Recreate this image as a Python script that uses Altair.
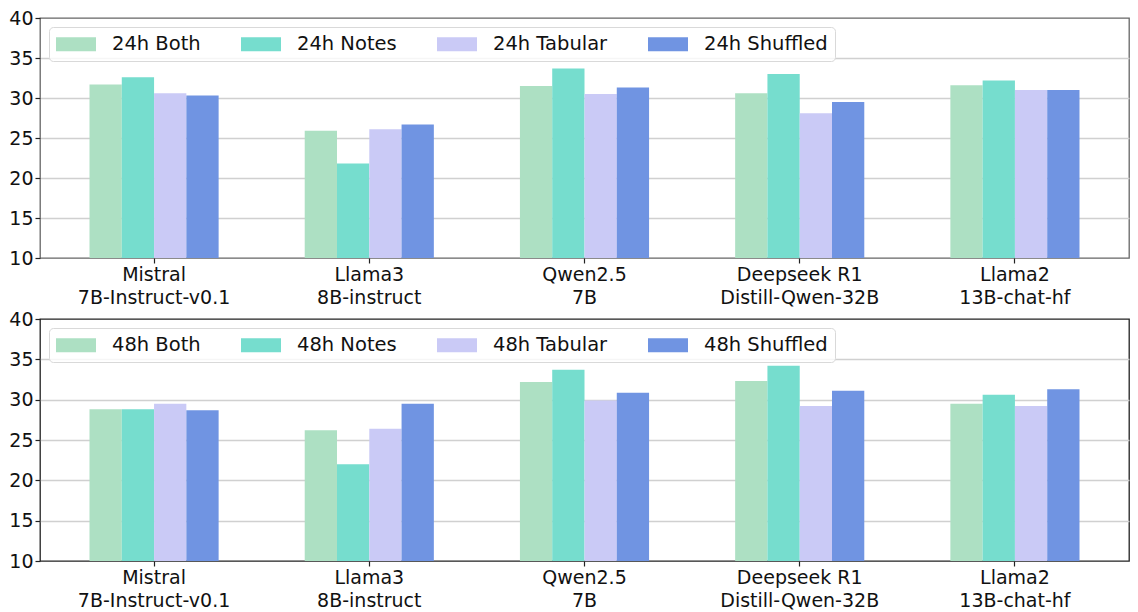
import altair as alt
import pandas as pd

models = ["Mistral\n7B-Instruct-v0.1", "Llama3\n8B-instruct", "Qwen2.5\n7B",
          "Deepseek R1\nDistill-Qwen-32B", "Llama2\n13B-chat-hf"]

conds24 = ["24h Both", "24h Notes", "24h Tabular", "24h Shuffled"]
both24 = [31.7, 25.9, 31.5, 30.6, 31.6]
notes24 = [32.6, 21.8, 33.7, 33.0, 32.2]
tab24 = [30.6, 26.1, 30.5, 28.1, 31.0]
shuf24 = [30.3, 26.7, 31.3, 29.5, 31.0]

conds48 = ["48h Both", "48h Notes", "48h Tabular", "48h Shuffled"]
both48 = [28.8, 26.2, 32.2, 32.3, 29.5]
notes48 = [28.8, 22.0, 33.7, 34.2, 30.6]
tab48 = [29.5, 26.4, 29.9, 29.2, 29.2]
shuf48 = [28.7, 29.5, 30.85, 31.1, 31.3]

colors = ["#ade0c3", "#76ddce", "#cacaf6", "#7094e2"]
y_ticks = [10, 15, 20, 25, 30, 35, 40]

FONT = "DejaVu Sans"
W = 1089


def panel(conds, series, frame, h):
    rows = []
    for c, vals in zip(conds, series):
        for m, v in zip(models, vals):
            rows.append({"model": m, "cond": c, "value": v})
    df = pd.DataFrame(rows)
    return alt.Chart(df).mark_bar(opacity=1).encode(
        x=alt.X("model:N", sort=models, title=None,
                scale=alt.Scale(paddingInner=0.4, paddingOuter=0.23),
                axis=alt.Axis(labelAngle=0, labelExpr="split(datum.label, '\\n')",
                              labelLineHeight=23, labelPadding=2, tickSize=5,
                              tickColor="#222", tickWidth=1.2, domain=False,
                              grid=False, labelFontSize=19, labelFont=FONT,
                              labelColor="#111")),
        xOffset=alt.XOffset("cond:N", sort=conds,
                            scale=alt.Scale(paddingInner=0, paddingOuter=0)),
        y=alt.Y("value:Q", title=None,
                scale=alt.Scale(domain=[10, 40], nice=False, zero=False),
                axis=alt.Axis(values=y_ticks, tickSize=5, labelPadding=2,
                              tickColor="#222", tickWidth=1.2, domain=False,
                              grid=True, gridColor="#d0d0d0", gridWidth=1.5,
                              gridOpacity={"condition": {
                                  "test": "datum.value === 10 || datum.value === 40",
                                  "value": 0}, "value": 1},
                              labelFontSize=19, labelFont=FONT, labelColor="#111")),
        y2=alt.datum(10),
        color=alt.Color("cond:N", sort=conds,
                        scale=alt.Scale(domain=conds, range=colors),
                        legend=alt.Legend(
                            title=None, orient="top-left", offset=9,
                            direction="horizontal", columns=4, padding=7,
                            symbolType="M-2,-0.7H2V0.7H-2Z", symbolSize=400,
                            symbolOffset=10,
                            symbolStrokeWidth=0, symbolOpacity=1,
                            labelFontSize=19.5, labelFont=FONT, labelColor="#111",
                            labelOffset=26, columnPadding=40,
                            cornerRadius=4, strokeColor="#d9d9d9",
                            fillColor="rgba(255,255,255,0.8)")),
    ).properties(width=W, height=h,
                 view=alt.ViewBackground(stroke=frame, strokeWidth=1.3))


top = panel(conds24, [both24, notes24, tab24, shuf24], "#666666", 240)
bottom = panel(conds48, [both48, notes48, tab48, shuf48], "#222222", 242)

chart = alt.vconcat(top, bottom, spacing=1).resolve_scale(
    color="independent", xOffset="independent", x="independent"
).properties(
    padding={"left": 0, "top": 0, "right": 0, "bottom": 0}
).configure_scale(
    offsetBandPaddingInner=0, offsetBandPaddingOuter=0
).configure(background="white")

chart.save("out.html", embed_options={"renderer": "svg", "actions": False})
